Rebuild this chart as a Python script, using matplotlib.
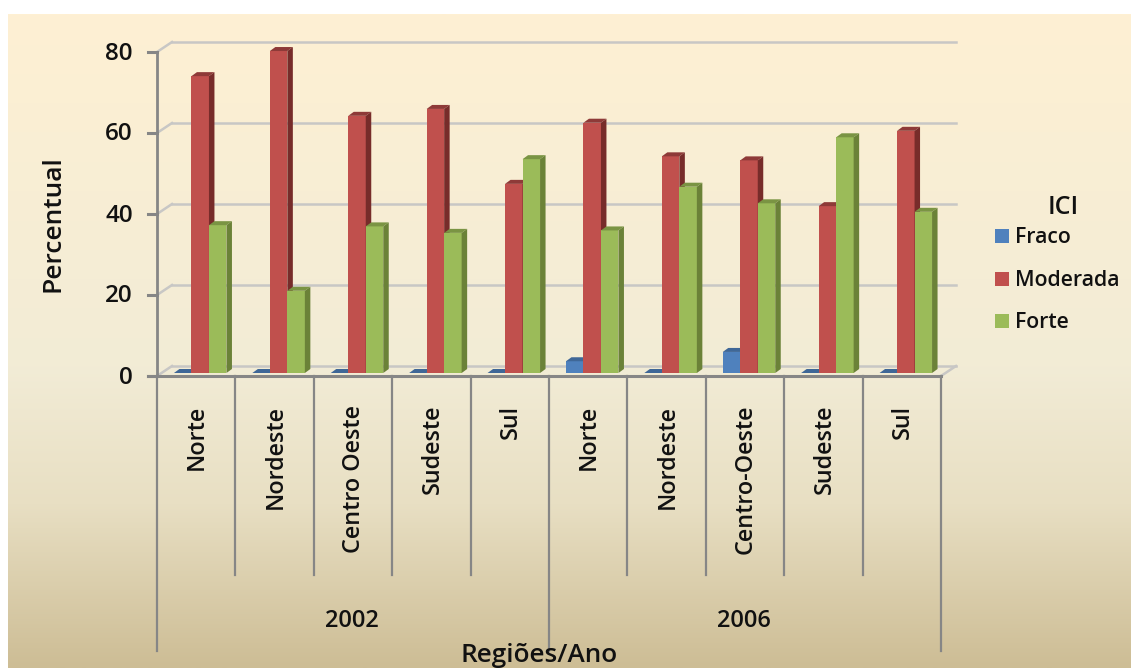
import numpy as np
import matplotlib
matplotlib.use("Agg")
import matplotlib.pyplot as plt
from matplotlib.colors import LinearSegmentedColormap
from matplotlib.patches import Polygon, Rectangle

regions = ["Norte", "Nordeste", "Centro Oeste", "Sudeste", "Sul",
           "Norte", "Nordeste", "Centro-Oeste", "Sudeste", "Sul"]
years = ["2002", "2006"]
fraco = [0, 0, 0, 0, 0, 2.9, 0, 5.2, 0, 0]
moderada = [73.3, 79.5, 63.5, 65.2, 46.7, 61.8, 53.5, 52.5, 41.2, 59.8]
forte = [36.5, 20.3, 36.2, 34.6, 52.8, 35.2, 46.0, 41.9, 58.2, 39.8]
y_ticks = [0, 20, 40, 60, 80]

W, H = 1131, 668
plt.rcParams["font.family"] = ["Open Sans", "DejaVu Sans"]
fig = plt.figure(figsize=(W / 100, H / 100), dpi=100, facecolor="white")

### Background gradient
ax_bg = fig.add_axes([8 / W, 0, 1 - 8 / W, 1 - 14 / H])
cmap_bg = LinearSegmentedColormap.from_list(
    "bg", [(0, "#fef0d3"), (0.54, "#f2ecd6"), (0.75, "#e8dfc3"), (1, "#cdbd95")])
ax_bg.imshow(np.linspace(0, 1, 256)[:, None], aspect="auto", cmap=cmap_bg)
ax_bg.axis("off")

### Front plane of the chart: x in categories, y in percent
ax = fig.add_axes([157 / W, 1 - 376 / H, 784 / W, 324 / H])
ax.set_xlim(0, 10)
ax.set_ylim(0, 80)
ax.axis("off")
ax.patch.set_alpha(0)

px = 10 / 784  # one pixel in x data
py = 80 / 324  # one pixel in y data
wall_dx, wall_dy = 15 * px, 10 * py
c_grid, c_axis = "#c8c7c5", "#868686"
c_text = "#111111"

# Back wall gridlines
for t in y_ticks:
    ax.plot([wall_dx, 10 + wall_dx], [t + wall_dy, t + wall_dy], color=c_grid, lw=1.8, clip_on=False, zorder=1)
    ax.plot([0, wall_dx], [t, t + wall_dy], color=c_grid, lw=1.8, clip_on=False, zorder=1)
ax.plot([10, 10 + wall_dx], [0, wall_dy], color=c_grid, lw=1.8, clip_on=False, zorder=1)

# Axis lines and ticks
sep_y = -199 * py
group_y = -275 * py
ax.plot([0, 0], [0, 80], color=c_axis, lw=2, clip_on=False, zorder=2)
ax.plot([-9 * px, 10], [0, 0], color=c_axis, lw=2.2, clip_on=False, zorder=2)
for t in y_ticks:
    ax.plot([-9 * px, 0], [t, t], color=c_axis, lw=2.2, clip_on=False, zorder=2)
    ax.text(-24 * px, t - 1.5 * py, str(t), ha="right", va="center", fontsize=17.5,
            fontweight="semibold", color=c_text)
for i in range(11):
    bottom = group_y if i in (0, 5, 10) else sep_y
    ax.plot([i, i], [0, bottom], color=c_axis, lw=1.6, clip_on=False, zorder=2)

### Bars with their 3D faces
series = [(fraco, "#4f81bd", "#3f6797", "#385d8a"),
          (moderada, "#c0504d", "#8e3a38", "#772c2a"),
          (forte, "#9bbb59", "#7a9443", "#6b8238")]
bar_w = 17.5 * px
lift_y = 3 * py
side_dx, side_dy = 5.5 * px, 4 * py
group_c = 0.5 + 1.5 * px

for k, (vals, c_front, c_top, c_side) in enumerate(series):
    xs = np.arange(len(vals)) + group_c + (k - 1) * bar_w + 2.5 * px
    ax.bar(xs, vals, width=bar_w, bottom=lift_y, color=c_front, clip_on=False, zorder=4 + k)
    for x, v in zip(xs, vals):
        l, r, t = x - bar_w / 2, x + bar_w / 2, v + lift_y
        ax.add_patch(Polygon([(l, t), (r, t), (r + side_dx, t + side_dy), (l + side_dx, t + side_dy)],
                             fc=c_top, ec="none", clip_on=False, zorder=4 + k))
        ax.add_patch(Polygon([(r, lift_y), (r + side_dx, lift_y + side_dy), (r + side_dx, t + side_dy), (r, t)],
                             fc=c_side, ec="none", clip_on=False, zorder=4 + k))

### Category labels
for i, name in enumerate(regions):
    ax.text(i + 0.5 + 1 * px, -29 * py, name, rotation=90, ha="center", va="top", fontsize=16.8,
            fontweight="semibold", color=c_text, clip_on=False)
for i, name in enumerate(years):
    ax.text(2.5 + 5 * i - 1 * px, -245 * py, name, ha="center", va="center", fontsize=17,
            fontweight="semibold", color=c_text)

ax.text(382 * px, -279 * py, "Regiões/Ano", ha="center", va="center", fontsize=18.8,
        fontweight="semibold", color=c_text)
ax.text(-104 * px, 152 * py, "Percentual", rotation=90, ha="center", va="center", fontsize=19,
        fontweight="semibold", color=c_text)

### Legend
fig.text(1063 / W, 1 - 207 / H, "ICI", ha="center", va="center", fontsize=18, fontweight="semibold", color=c_text)
legend_names = ["Fraco", "Moderada", "Forte"]
legend_y = [236, 279, 321]
for name, y, s in zip(legend_names, legend_y, series):
    fig.add_artist(Rectangle((995 / W, 1 - (y + 7) / H), 14 / W, 14 / H, fc=s[1], ec="none",
                             transform=fig.transFigure))
    fig.text(1015 / W, 1 - (y + 1.5) / H, name, ha="left", va="center", fontsize=15.3,
             fontweight="semibold", color=c_text)

plt.savefig("out.png", dpi=100)
